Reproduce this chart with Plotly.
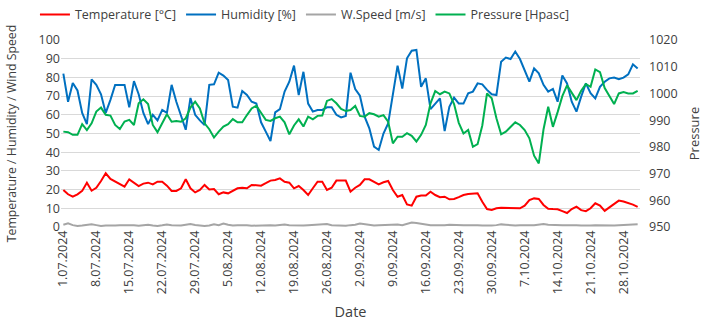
import pandas as pd
import plotly.graph_objects as go

dates = pd.date_range("2024-07-01", "2024-10-31", freq="D")

temperature = [19.8, 17.5, 16.2, 17.5, 19.3, 23.7, 19.4, 21.0, 24.6, 28.7,
               25.7, 24.2, 23.0, 21.6, 25.5, 23.7, 21.9, 23.2, 23.7, 22.8,
               24.2, 24.2, 22.1, 19.3, 19.3, 20.7, 25.5, 20.7, 18.5, 19.8,
               22.5, 20.1, 20.3, 17.5, 18.5, 18.0, 19.3, 20.7, 21.0, 20.7,
               22.5, 22.1, 22.1, 23.4, 24.8, 25.1, 26.0, 24.2, 23.7, 20.7,
               21.9, 19.8, 17.1, 20.7, 24.2, 24.2, 19.8, 21.0, 24.8, 24.8,
               24.8, 18.9, 21.0, 22.5, 25.5, 25.5, 24.2, 22.8, 23.9, 24.6,
               19.8, 16.2, 17.1, 12.1, 11.4, 16.2, 16.8, 16.8, 18.9, 17.1,
               15.9, 16.2, 14.8, 15.0, 16.0, 17.1, 17.6, 17.6, 18.0, 13.5,
               9.6, 9.1, 10.0, 10.3, 10.3, 10.3, 10.3, 10.0, 11.4, 14.4,
               15.3, 15.0, 11.8, 9.8, 9.6, 9.5, 8.5, 7.5, 9.6, 10.9,
               9.0, 8.5, 10.0, 12.7, 11.5, 8.6, 10.5, 12.5, 14.1, 13.6,
               13.0, 12.0, 10.8]

humidity = [82, 67, 77, 73, 61, 55, 79, 76, 71, 61,
            68, 76, 76, 76, 64, 78, 71, 61, 55, 60,
            57, 62.6, 61, 76, 67, 59, 52, 69, 60, 57,
            54.5, 76, 76.3, 82.5, 81, 78.6, 64.3, 63.8, 72.7, 70.6,
            67, 66, 56, 51, 46, 61.3, 63, 72.4, 77.7, 86.3,
            70.6, 83, 66, 61.7, 62.6, 62.6, 64, 64, 60, 58.6,
            59.4, 82.5, 73.8, 70.2, 59, 52.8, 43, 41.2, 50, 55.4,
            70.6, 86.3, 74, 90.2, 94.3, 94.7, 75, 79.5, 63, 66,
            68.8, 51.3, 64.3, 69.2, 66, 66, 71.5, 72.4, 76.8, 76.3,
            73.3, 71, 70.6, 88.4, 90.6, 89.8, 93.8, 89.8, 84, 77.7,
            84.8, 82.2, 76, 72.4, 73.8, 67, 81, 76.8, 67, 61.7,
            69.7, 76.8, 71.5, 68.8, 75, 77.7, 79.5, 79.9, 79.1, 79.9,
            81.6, 87, 84.8]

wind_speed = [1.2, 2.0, 1.0, 0.6, 0.8, 1.0, 1.4, 1.0, 0.6, 0.8,
              1.0, 0.8, 0.9, 1.0, 1.1, 0.9, 0.7, 1.0, 1.2, 0.8,
              0.6, 0.9, 1.3, 1.0, 0.7, 0.8, 1.2, 1.6, 1.1, 0.7,
              0.6, 0.8, 1.5, 1.0, 1.9, 1.2, 0.8, 1.0, 1.1, 0.9,
              0.7, 0.8, 1.0, 1.2, 0.9, 0.8, 1.0, 1.3, 1.0, 0.9,
              0.7, 0.8, 1.0, 1.1, 1.0, 1.3, 1.6, 1.0, 0.8, 0.9,
              0.7, 1.0, 1.2, 1.8, 1.4, 1.0, 0.8, 0.9, 1.0, 1.1,
              1.0, 1.3, 1.0, 1.6, 2.4, 2.2, 1.8, 1.2, 1.0, 0.9,
              0.8, 1.0, 1.2, 1.0, 0.8, 0.9, 1.0, 1.2, 1.0, 0.8,
              0.7, 0.8, 1.0, 1.4, 1.2, 0.9, 0.8, 1.0, 1.1, 1.0,
              0.9, 1.3, 1.6, 1.2, 1.0, 0.8, 0.9, 1.0, 1.2, 1.0,
              0.8, 0.7, 0.8, 1.0, 0.9, 0.8, 0.7, 0.8, 0.9, 1.0,
              1.2, 1.4, 1.5]

pressure = [985.7, 985.5, 984.5, 984.5, 988.5, 986.3, 988.8, 993.2, 994.7, 992.0,
            991.7, 988.2, 986.7, 989.5, 990.1, 988.2, 996.3, 997.8, 996.0, 988.2,
            985.5, 988.8, 992.2, 989.4, 989.7, 989.4, 990.7, 994.7, 996.9, 994.4,
            988.8, 986.6, 983.5, 985.7, 987.6, 988.5, 990.4, 989.2, 989.2, 991.9,
            994.4, 995.4, 992.6, 990.1, 989.7, 990.7, 991.3, 989.2, 984.7, 988.0,
            990.3, 987.6, 991.3, 990.3, 991.6, 991.7, 997.2, 997.9, 996.3, 994.2,
            993.4, 993.8, 995.3, 991.6, 991.3, 992.6, 992.2, 991.3, 991.9, 989.4,
            981.3, 983.8, 983.8, 985.1, 984.1, 982.0, 984.5, 988.2, 996.3, 1000.9,
            999.7, 1000.7, 1000.0, 996.0, 989.0, 985.0, 986.3, 980.0, 981.0, 988.0,
            1000.0, 998.2, 990.7, 984.7, 985.7, 987.6, 989.2, 988.2, 986.3, 983.2,
            976.7, 973.8, 986.5, 995.0, 987.5, 993.0, 999.0, 1003.0, 1000.0, 997.5,
            1001.0, 1003.5, 1002.5, 1009.0, 1008.0, 1002.0, 999.0, 996.0, 1000.0, 1000.5,
            1000.0, 1000.0, 1001.0]

FONT = "Open Sans"
TXT = "#404040"

fig = go.Figure()
fig.add_trace(go.Scatter(x=dates, y=temperature, name="Temperature [°C]",
                         mode="lines", line=dict(color="#FF0000", width=2)))
fig.add_trace(go.Scatter(x=dates, y=humidity, name="Humidity [%]",
                         mode="lines", line=dict(color="#0070C0", width=2)))
fig.add_trace(go.Scatter(x=dates, y=wind_speed, name="W.Speed [m/s]",
                         mode="lines", line=dict(color="#A5A5A5", width=2)))
fig.add_trace(go.Scatter(x=dates, y=pressure, name="Pressure [Hpasc]",
                         mode="lines", line=dict(color="#00B050", width=2),
                         yaxis="y2"))

fig.update_layout(
    width=705, height=328,
    margin=dict(l=61, r=65, t=40, b=101, autoexpand=False),
    paper_bgcolor="white", plot_bgcolor="white",
    font=dict(family=FONT, size=12.5, color=TXT),
    showlegend=True,
    legend=dict(orientation="h", x=-0.045, xanchor="left", y=1.215, yanchor="top",
                font=dict(size=12.5, color=TXT), itemwidth=30,
                tracegroupgap=0, bgcolor="rgba(0,0,0,0)"),
    xaxis=dict(
        type="date", automargin=False,
        range=["2024-06-30 12:00", "2024-10-31 12:00"],
        tick0="2024-07-01", dtick=7 * 86400000,
        tickformat="%-d.%m.%Y", tickangle=-90,
        showgrid=False, zeroline=False, showline=False,
        tickfont=dict(size=12.5, color=TXT),
        title=dict(text="Date", font=dict(size=14.5, color=TXT), standoff=13),
    ),
    yaxis=dict(
        range=[0, 100], dtick=10, automargin=False,
        showgrid=True, gridcolor="#D9D9D9", gridwidth=1,
        zeroline=False, showline=False,
        tickfont=dict(size=12.5, color=TXT),
        title=dict(text="Temperature / Humidity / Wind Speed",
                   font=dict(size=12.3, color=TXT), standoff=19),
    ),
    yaxis2=dict(
        range=[950, 1020], dtick=10, overlaying="y", side="right",
        automargin=False,
        showgrid=False, zeroline=False, showline=False,
        ticklabelstandoff=8,
        tickfont=dict(size=12.5, color=TXT),
        title=dict(text="Pressure", font=dict(size=13, color=TXT), standoff=13),
    ),
)

fig.write_html("out.html")
